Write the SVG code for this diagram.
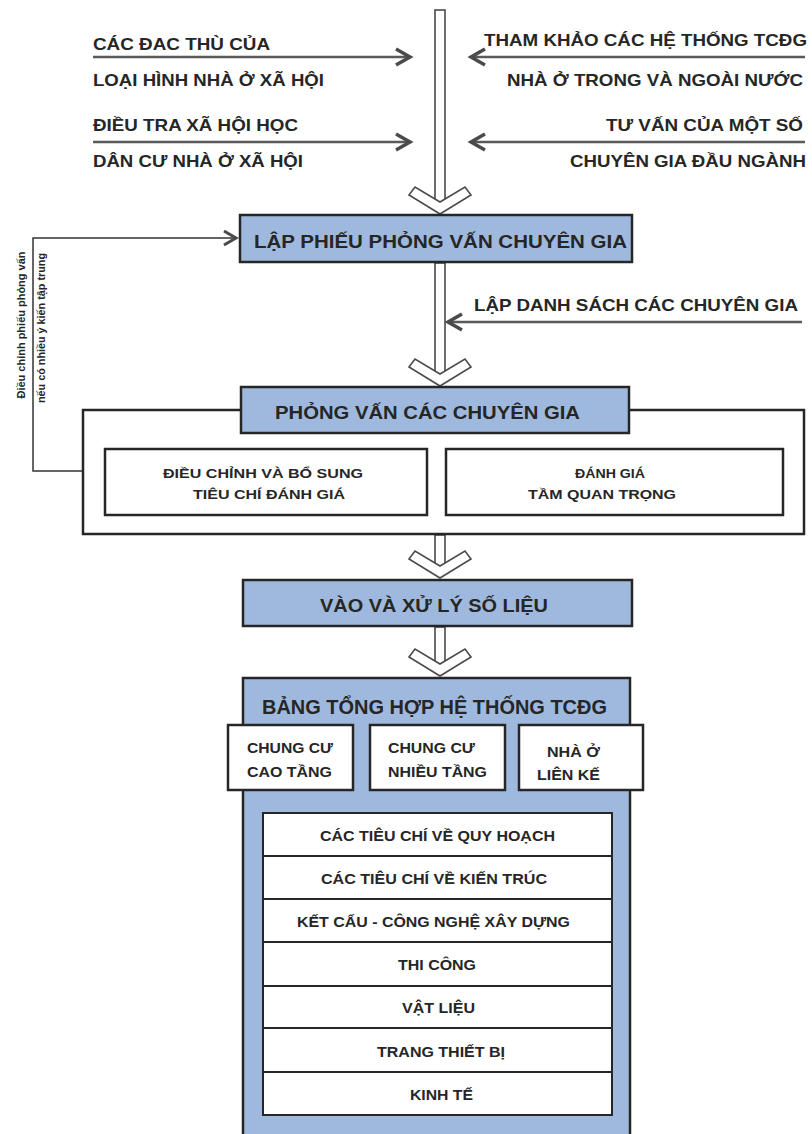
<svg xmlns="http://www.w3.org/2000/svg" width="812" height="1134" viewBox="0 0 812 1134">
<defs>
<style>
text{font-family:"Liberation Sans",Arial,sans-serif;font-weight:bold;fill:#262626}
.t15{font-size:16.5px}
.t17{font-size:19px}
.t13{font-size:14px}
.t12{font-size:13.5px}
.t10{font-size:11px}
.blue{fill:#9fb9de;stroke:#262626;stroke-width:2.5}
.white{fill:#ffffff;stroke:#262626;stroke-width:2.5}
.shaft{fill:#ffffff;stroke:#4a4a4a;stroke-width:1.6}
.side{fill:none;stroke:#5a5a5a;stroke-width:2.6}
.head{fill:none;stroke:#4a4a4a;stroke-width:3.5;stroke-linejoin:miter}
.thin{fill:none;stroke:#333;stroke-width:1.5}
</style>
<path id="chev" d="M0,0 L-31,-19 L-25,-27 L0,-12 L25,-27 L31,-19 Z" class="shaft"/>
</defs>
<rect width="812" height="1134" fill="#ffffff"/>

<g id="connectors">
  <rect x="435" y="10" width="10" height="194" class="shaft"/>
  <use href="#chev" x="440" y="214"/>
  <line x1="93" y1="57" x2="410" y2="57" class="side"/>
  <polyline points="396,49 410,57 396,65" class="head"/>
  <line x1="93" y1="142" x2="410" y2="142" class="side"/>
  <polyline points="396,134 410,142 396,150" class="head"/>
  <line x1="805" y1="57" x2="471" y2="57" class="side"/>
  <polyline points="485,49 471,57 485,65" class="head"/>
  <line x1="805" y1="142" x2="471" y2="142" class="side"/>
  <polyline points="485,134 471,142 485,150" class="head"/>
  <rect x="435" y="263" width="10" height="113" class="shaft"/>
  <use href="#chev" x="440" y="386"/>
  <line x1="802" y1="322" x2="448" y2="322" class="side"/>
  <polyline points="462,314 448,322 462,330" class="head"/>
  <polyline points="83,471 33,471 33,238 236,238" class="thin"/>
  <polyline points="224,231 236,238 224,245" class="head" style="stroke-width:3"/>
  <rect x="435" y="535" width="10" height="33" class="shaft"/>
  <use href="#chev" x="440" y="578"/>
  <rect x="435" y="627" width="10" height="39" class="shaft"/>
  <use href="#chev" x="440" y="676"/>
</g>

<g id="inputs">
  <text class="t15" x="93" y="50" textLength="177" lengthAdjust="spacingAndGlyphs">CÁC ĐAC THÙ CỦA</text>
  <text class="t15" x="93" y="86" textLength="231" lengthAdjust="spacingAndGlyphs">LOẠI HÌNH NHÀ Ở XÃ HỘI</text>
  <text class="t15" x="93" y="131" textLength="205" lengthAdjust="spacingAndGlyphs">ĐIỀU TRA XÃ HỘI HỌC</text>
  <text class="t15" x="93" y="167" textLength="210" lengthAdjust="spacingAndGlyphs">DÂN CƯ NHÀ Ở XÃ HỘI</text>
  <text class="t15" x="484" y="46" textLength="323" lengthAdjust="spacingAndGlyphs">THAM KHẢO CÁC HỆ THỐNG TCĐG</text>
  <text class="t15" x="507" y="86" textLength="296" lengthAdjust="spacingAndGlyphs">NHÀ Ở TRONG VÀ NGOÀI NƯỚC</text>
  <text class="t15" x="606" y="131" textLength="197" lengthAdjust="spacingAndGlyphs">TƯ VẤN CỦA MỘT SỐ</text>
  <text class="t15" x="570" y="167" textLength="236" lengthAdjust="spacingAndGlyphs">CHUYÊN GIA ĐẦU NGÀNH</text>
  <text class="t15" x="474" y="311" textLength="324" lengthAdjust="spacingAndGlyphs">LẬP DANH SÁCH CÁC CHUYÊN GIA</text>
</g>

<g id="feedback-label">
  <text class="t10" transform="translate(25,325) rotate(-90)" text-anchor="middle" textLength="147" lengthAdjust="spacingAndGlyphs">Điều chỉnh phiếu phỏng vấn</text>
  <text class="t10" transform="translate(45,328) rotate(-90)" text-anchor="middle" textLength="150" lengthAdjust="spacingAndGlyphs">nếu có nhiều ý kiến tập trung</text>
</g>

<g id="lap-phieu">
  <rect x="240" y="215" width="392" height="47" class="blue"/>
  <text class="t17" x="254" y="248" textLength="373" lengthAdjust="spacingAndGlyphs">LẬP PHIẾU PHỎNG VẤN CHUYÊN GIA</text>
</g>

<g id="phong-van-group">
  <rect x="83" y="410" width="721" height="124" class="white"/>
</g>
<g id="phong-van">
  <rect x="241" y="387" width="388" height="46" class="blue"/>
  <text class="t17" x="275" y="419" textLength="305" lengthAdjust="spacingAndGlyphs">PHỎNG VẤN CÁC CHUYÊN GIA</text>
</g>
<g id="dieu-chinh">
  <rect x="105" y="449" width="322" height="66" class="white"/>
  <text class="t12" x="163" y="478" textLength="200" lengthAdjust="spacingAndGlyphs">ĐIỀU CHỈNH VÀ BỔ SUNG</text>
  <text class="t12" x="193" y="499" textLength="152" lengthAdjust="spacingAndGlyphs">TIÊU CHÍ ĐÁNH GIÁ</text>
</g>
<g id="danh-gia">
  <rect x="446" y="449" width="337" height="66" class="white"/>
  <text class="t12" x="575" y="478" textLength="70" lengthAdjust="spacingAndGlyphs">ĐÁNH GIÁ</text>
  <text class="t12" x="528" y="499" textLength="148" lengthAdjust="spacingAndGlyphs">TẦM QUAN TRỌNG</text>
</g>

<g id="vao-xu-ly">
  <rect x="243" y="580" width="389" height="46" class="blue"/>
  <text class="t17" x="320" y="612" textLength="228" lengthAdjust="spacingAndGlyphs">VÀO VÀ XỬ LÝ SỐ LIỆU</text>
</g>

<g id="bang-tong-hop">
  <rect x="243" y="678" width="387" height="470" class="blue"/>
  <text x="262" y="714" style="font-size:21px" textLength="345" lengthAdjust="spacingAndGlyphs">BẢNG TỔNG HỢP HỆ THỐNG TCĐG</text>
</g>
<g id="cao-tang">
  <rect x="228" y="725" width="125" height="65" class="white"/>
  <text class="t13" x="247" y="753" textLength="86" lengthAdjust="spacingAndGlyphs">CHUNG CƯ</text>
  <text class="t13" x="247" y="777" textLength="85" lengthAdjust="spacingAndGlyphs">CAO TẦNG</text>
</g>
<g id="nhieu-tang">
  <rect x="370" y="725" width="135" height="65" class="white"/>
  <text class="t13" x="388" y="753" textLength="87" lengthAdjust="spacingAndGlyphs">CHUNG CƯ</text>
  <text class="t13" x="388" y="777" textLength="99" lengthAdjust="spacingAndGlyphs">NHIỀU TẦNG</text>
</g>
<g id="lien-ke">
  <rect x="519" y="725" width="124" height="65" class="white"/>
  <text class="t13" x="547" y="757" textLength="53" lengthAdjust="spacingAndGlyphs">NHÀ Ở</text>
  <text class="t13" x="537" y="780" textLength="63" lengthAdjust="spacingAndGlyphs">LIÊN KẾ</text>
</g>

<g id="tieu-chi-list">
  <rect x="263" y="813" width="349" height="302" fill="#ffffff" stroke="#262626" stroke-width="2"/>
  <line x1="263" y1="856" x2="612" y2="856" stroke="#262626" stroke-width="1.8"/>
  <line x1="263" y1="899" x2="612" y2="899" stroke="#262626" stroke-width="1.8"/>
  <line x1="263" y1="942" x2="612" y2="942" stroke="#262626" stroke-width="1.8"/>
  <line x1="263" y1="986" x2="612" y2="986" stroke="#262626" stroke-width="1.8"/>
  <line x1="263" y1="1028" x2="612" y2="1028" stroke="#262626" stroke-width="1.8"/>
  <line x1="263" y1="1072" x2="612" y2="1072" stroke="#262626" stroke-width="1.8"/>
  <text class="t13" x="320" y="841" textLength="235" lengthAdjust="spacingAndGlyphs">CÁC TIÊU CHÍ VỀ QUY HOẠCH</text>
  <text class="t13" x="321" y="884" textLength="226" lengthAdjust="spacingAndGlyphs">CÁC TIÊU CHÍ VỀ KIẾN TRÚC</text>
  <text class="t13" x="297" y="927" textLength="273" lengthAdjust="spacingAndGlyphs">KẾT CẤU - CÔNG NGHỆ XÂY DỰNG</text>
  <text class="t13" x="398" y="970" textLength="78" lengthAdjust="spacingAndGlyphs">THI CÔNG</text>
  <text class="t13" x="402" y="1013" textLength="73" lengthAdjust="spacingAndGlyphs">VẬT LIỆU</text>
  <text class="t13" x="377" y="1057" textLength="128" lengthAdjust="spacingAndGlyphs">TRANG THIẾT BỊ</text>
  <text class="t13" x="410" y="1100" textLength="63" lengthAdjust="spacingAndGlyphs">KINH TẾ</text>
</g>
</svg>
